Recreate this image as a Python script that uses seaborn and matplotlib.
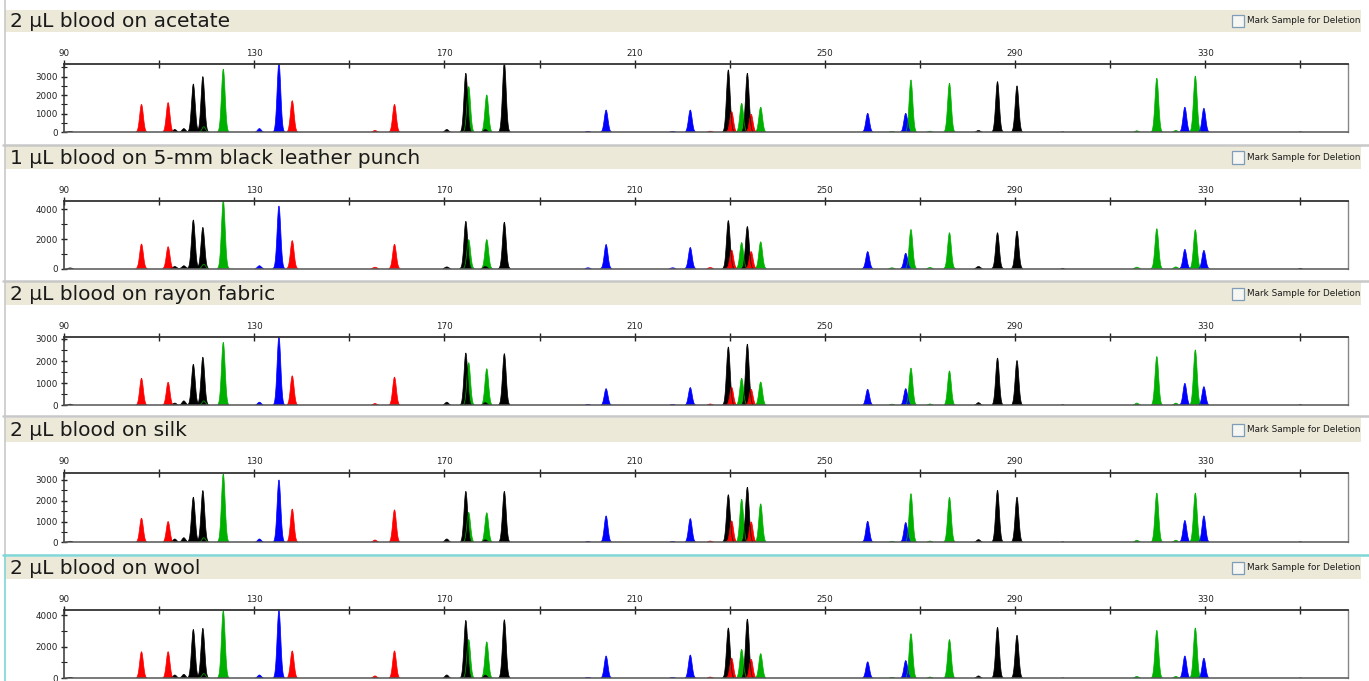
import numpy as np
import pandas as pd
import matplotlib
matplotlib.use("Agg")
import matplotlib.pyplot as plt
import seaborn as sns
from matplotlib.patches import Rectangle
from matplotlib.lines import Line2D

# ---------------- data ----------------
titles = ["2 µL blood on acetate",
          "1 µL blood on 5-mm black leather punch",
          "2 µL blood on rayon fabric",
          "2 µL blood on silk",
          "2 µL blood on wool"]

peak_bp = [91.3, 106.3, 111.9, 113.3, 115.2, 117.2, 119.2, 119.4, 123.5, 131.1,
           135.2, 138.0, 155.4, 159.5, 170.5, 174.5, 175.1, 178.6, 178.9, 182.6,
           200.2, 204.0, 218.0, 221.7, 225.9, 229.7, 230.4, 232.5, 233.7, 234.5,
           236.5, 259.0, 264.1, 267.0, 268.1, 272.1, 276.2, 282.3, 286.3, 290.4,
           300.0, 315.6, 319.8, 323.8, 325.7, 327.9, 329.7, 350.0]

peak_dye = ["black", "red", "red", "black", "black", "black", "black", "green", "green", "blue",
            "blue", "red", "red", "red", "black", "black", "green", "black", "green", "black",
            "blue", "blue", "blue", "blue", "red", "black", "red", "green", "black", "red",
            "green", "blue", "green", "blue", "green", "green", "green", "black", "black", "black",
            "black", "green", "green", "green", "blue", "green", "blue", "black"]

rfu_acetate = [50, 1500, 1600, 150, 200, 2600, 3000, 300, 3400, 200,
               3750, 1700, 100, 1500, 150, 3180, 2460, 150, 2010, 3750,
               50, 1200, 50, 1200, 60, 3360, 1110, 1560, 3180, 970,
               1350, 1020, 50, 1020, 2820, 60, 2640, 100, 2730, 2500,
               20, 80, 2910, 100, 1350, 3030, 1290, 20]

rfu_leather = [50, 1660, 1480, 150, 200, 3280, 2780, 300, 4600, 200,
               4220, 1890, 100, 1640, 120, 3190, 1960, 150, 1960, 3130,
               60, 1630, 60, 1430, 80, 3240, 1250, 1760, 2840, 1150,
               1810, 1150, 60, 1040, 2640, 80, 2420, 150, 2420, 2530,
               20, 100, 2690, 120, 1300, 2620, 1230, 20]

rfu_rayon = [50, 1220, 1040, 100, 200, 1850, 2170, 200, 2840, 140,
             3100, 1330, 80, 1270, 140, 2360, 1920, 120, 1650, 2330,
             40, 750, 40, 800, 60, 2630, 810, 1220, 2760, 720,
             1050, 720, 50, 750, 1680, 60, 1550, 120, 2130, 2020,
             20, 100, 2200, 100, 990, 2500, 840, 20]

rfu_silk = [50, 1160, 1000, 160, 220, 2170, 2490, 220, 3290, 160,
            3000, 1600, 110, 1560, 160, 2450, 1440, 120, 1420, 2450,
            40, 1270, 40, 1140, 60, 2290, 1030, 2070, 2650, 980,
            1850, 1010, 50, 950, 2340, 60, 2160, 130, 2500, 2170,
            20, 100, 2370, 100, 1050, 2370, 1270, 20]

rfu_wool = [60, 1680, 1680, 210, 250, 3090, 3160, 300, 4270, 210,
            4300, 1730, 150, 1730, 210, 3660, 2450, 200, 2300, 3700,
            60, 1410, 60, 1470, 80, 3180, 1270, 1830, 3740, 1200,
            1560, 1040, 60, 1120, 2820, 80, 2450, 150, 3220, 2720,
            20, 120, 3030, 120, 1410, 3180, 1270, 20]

panel_rfu = [rfu_acetate, rfu_leather, rfu_rayon, rfu_silk, rfu_wool]
y_max = [3680, 4560, 3070, 3350, 4320]
y_major = [[0, 1000, 2000, 3000], [0, 2000, 4000], [0, 1000, 2000, 3000],
           [0, 1000, 2000, 3000], [0, 2000, 4000]]
y_minor_step = [500, 1000, 500, 500, 1000]
x_ticks = list(range(90, 351, 20))
checkbox_label = "Mark Sample for Deletion"

# ---------------- style ----------------
sns.set_style("white")
plt.rcParams["font.family"] = ["DejaVu Sans"]

W, H = 1369, 681
fig = plt.figure(figsize=(W / 100, H / 100), dpi=100)
fig.patch.set_facecolor("white")


def fx(px):
    return px / W


def fy(px):
    return 1 - px / H


dye_colors = {"blue": "#0000ff", "green": "#00b000", "black": "#000000", "red": "#ff0000"}
draw_order = ["green", "blue", "black", "red"]
sigma = 0.38
xs = np.arange(88.0, 362.0, 0.02)

# panel geometry in pixels: header top, header bottom, axes top, axes bottom, separator y
geom = [(10.0, 31.7, 64.0, 132.3, None),
        (146.0, 169.0, 201.0, 268.7, 144.5),
        (282.0, 305.0, 337.3, 405.3, 280.5),
        (417.5, 441.5, 472.7, 542.3, 416.0),
        (556.5, 578.5, 610.0, 678.3, 555.0)]
next_sep = [144.5, 280.5, 416.0, 555.0, 681.0]

for i, (htop, hbot, atop, abot, sep) in enumerate(geom):
    sel = (i == 4)
    line_col = "#7fd6d6" if sel else "#c8c8c8"
    # separator line
    if sep is not None:
        fig.add_artist(Line2D([fx(3), fx(1369)], [fy(sep), fy(sep)], color=line_col,
                              lw=1.8, transform=fig.transFigure))
    # left vertical border
    vtop = sep if sep is not None else 0
    fig.add_artist(Line2D([fx(5), fx(5)], [fy(vtop), fy(next_sep[i])], color=line_col,
                          lw=1.2, transform=fig.transFigure))
    # beige header band
    fig.add_artist(Rectangle((fx(5.5), fy(hbot)), fx(1361 - 5.5), (hbot - htop) / H,
                             facecolor="#ece9d8", edgecolor="none", transform=fig.transFigure))
    fig.text(fx(10), fy(hbot - 5.0), titles[i], fontsize=14.5, color="#1a1a1a",
             va="baseline", ha="left")
    # checkbox
    cy = (htop + hbot) / 2
    fig.add_artist(Rectangle((fx(1232), fy(cy + 6)), fx(12), 12 / H, facecolor="#f6f6f2",
                             edgecolor="#7f9db9", lw=0.9, transform=fig.transFigure))
    fig.text(fx(1247), fy(cy), checkbox_label, fontsize=6.4, color="#1a1a1a",
             va="center", ha="left")

    # axes
    ax = fig.add_axes([fx(64), fy(abot), fx(1348 - 64), (abot - atop) / H])
    ax.set_facecolor("white")
    rfu = np.array(panel_rfu[i], dtype=float)
    for dye in draw_order:
        ys = np.zeros_like(xs)
        for p, h, d in zip(peak_bp, rfu, peak_dye):
            if d == dye:
                ys += h * np.exp(-0.5 * ((xs - p) / sigma) ** 2)
        ax.fill_between(xs, 0, ys, where=ys > 2, color=dye_colors[dye], lw=0, zorder=2)
        keep = ys > 15
        seg = np.cumsum(np.r_[1, np.diff(keep.astype(int)) != 0])
        df = pd.DataFrame({"bp": xs[keep], "rfu": ys[keep], "seg": seg[keep]})
        if len(df):
            sns.lineplot(data=df, x="bp", y="rfu", units="seg", estimator=None,
                         color=dye_colors[dye], lw=0.5, ax=ax, sort=False, zorder=3)
    ax.set_xlim(90, 360)
    ax.set_ylim(0, y_max[i])
    ax.set_xlabel("")
    ax.set_ylabel("")

    ax.xaxis.tick_top()
    ax.set_xticks(x_ticks)
    ax.set_xticklabels([str(t) if (t - 90) % 40 == 0 else "" for t in x_ticks])
    ax.tick_params(axis="x", which="major", direction="inout", length=6, width=1.0,
                   labelsize=6.3, pad=1.5, colors="#222222", top=True, bottom=False)
    ax.set_yticks(y_major[i])
    ax.set_yticklabels([str(v) for v in y_major[i]])
    ax.set_yticks(np.arange(0, y_max[i] + 1, y_minor_step[i]), minor=True)
    ax.tick_params(axis="y", which="major", direction="inout", length=5, width=1.0,
                   labelsize=6.3, pad=2, colors="#222222", left=True)
    ax.tick_params(axis="y", which="minor", direction="inout", length=4, width=0.8,
                   colors="#222222", left=True)
    for side, col, lw in [("top", "#333333", 1.3), ("left", "#333333", 1.1),
                          ("bottom", "#555555", 1.1), ("right", "#888888", 1.0)]:
        ax.spines[side].set_visible(True)
        ax.spines[side].set_color(col)
        ax.spines[side].set_linewidth(lw)
        ax.spines[side].set_zorder(4)
    ax.grid(False)

fig.savefig("out.png", dpi=100, facecolor="white")
